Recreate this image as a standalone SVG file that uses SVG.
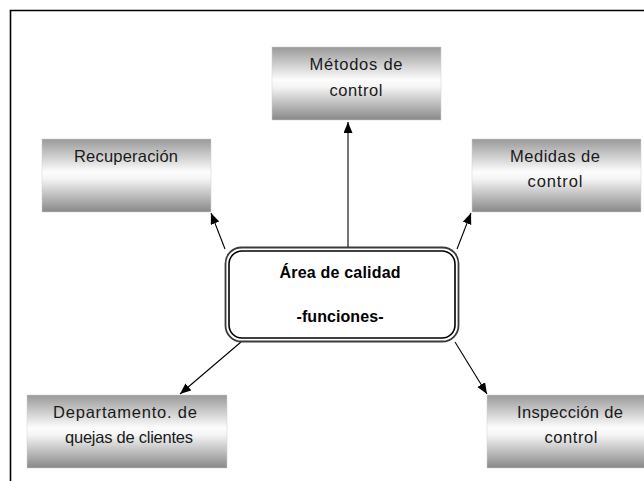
<svg xmlns="http://www.w3.org/2000/svg" width="644" height="481" viewBox="0 0 644 481">
<style>
  .box { fill: url(#g); stroke: #d0d0d0; stroke-width: 0.5; }
  .t { font-family: "Liberation Sans", Arial, sans-serif; font-size: 16.5px; fill: #1a1a1a; text-anchor: middle; }
  .b { font-weight: bold; fill: #000; font-size: 16px; }
  .c { stroke: #000; stroke-width: 1.1; fill: none; marker-end: url(#ah); }
</style>
<defs>
  <linearGradient id="g" x1="0" y1="0" x2="0" y2="1">
    <stop offset="0" stop-color="#999999"/>
    <stop offset="0.45" stop-color="#fdfdfd"/>
    <stop offset="0.55" stop-color="#f4f4f4"/>
    <stop offset="1" stop-color="#888888"/>
  </linearGradient>
  <marker id="ah" markerUnits="userSpaceOnUse" markerWidth="12" markerHeight="10" refX="11" refY="4.5" orient="auto">
    <path d="M0,0 L11,4.5 L0,9 Z" fill="#000"/>
  </marker>
</defs>
<rect width="644" height="481" fill="#fff"/>
<g id="frame">
  <path d="M10.5,481 L10.5,10.5 L644,10.5" fill="none" stroke="#000" stroke-width="1.6"/>
</g>
<g id="connectors">
  <line class="c" x1="348" y1="247" x2="348" y2="122"/>
  <line class="c" x1="225" y1="249" x2="211" y2="213"/>
  <line class="c" x1="457" y1="249" x2="471" y2="213"/>
  <line class="c" x1="241" y1="342" x2="180" y2="394"/>
  <line class="c" x1="455" y1="342" x2="487" y2="394"/>
</g>
<g id="metodos">
  <rect class="box" x="272" y="47" width="169" height="73"/>
  <text class="t" x="356" y="70" textLength="93" lengthAdjust="spacing">Métodos de</text>
  <text class="t" x="356" y="96" textLength="53" lengthAdjust="spacing">control</text>
</g>
<g id="recuperacion">
  <rect class="box" x="42" y="139" width="169" height="73"/>
  <text class="t" x="126" y="162" textLength="104" lengthAdjust="spacing">Recuperación</text>
</g>
<g id="medidas">
  <rect class="box" x="472" y="139" width="169" height="73"/>
  <text class="t" x="555" y="162" textLength="90" lengthAdjust="spacing">Medidas de</text>
  <text class="t" x="555" y="187" textLength="55" lengthAdjust="spacing">control</text>
</g>
<g id="departamento">
  <rect class="box" x="27" y="395" width="200" height="73"/>
  <text class="t" x="125" y="418" textLength="144" lengthAdjust="spacing">Departamento. de</text>
  <text class="t" x="129" y="443" textLength="128" lengthAdjust="spacing">quejas de clientes</text>
</g>
<g id="inspeccion">
  <rect class="box" x="487" y="395" width="169" height="73"/>
  <text class="t" x="570" y="418" textLength="106" lengthAdjust="spacing">Inspección de</text>
  <text class="t" x="571" y="443" textLength="53" lengthAdjust="spacing">control</text>
</g>
<g id="area">
  <rect x="225.5" y="247.5" width="233" height="94" rx="16" fill="#fff" stroke="#3a3a3a" stroke-width="1.8"/>
  <rect x="229" y="251" width="226" height="87" rx="13" fill="#fff" stroke="#000" stroke-width="1.6"/>
  <text class="t b" x="340" y="278" textLength="121" lengthAdjust="spacing">Área de calidad</text>
  <text class="t b" x="340" y="322" textLength="87" lengthAdjust="spacing">-funciones-</text>
</g>
</svg>
